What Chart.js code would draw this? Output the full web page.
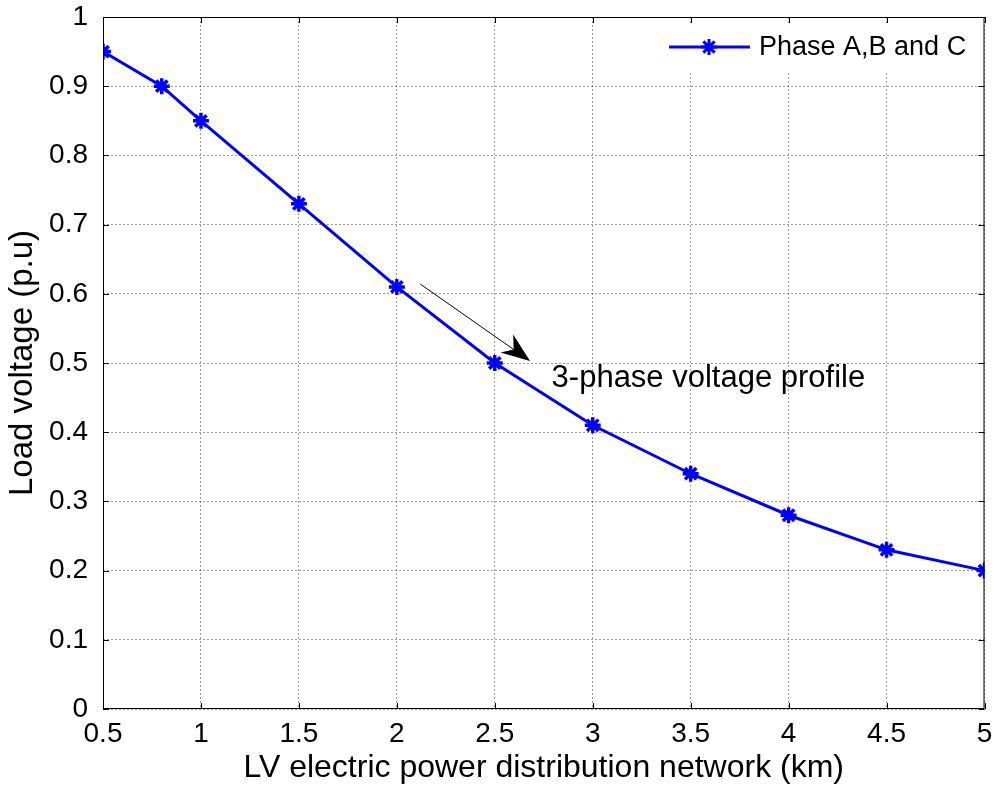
<!DOCTYPE html>
<html>
<head>
<meta charset="utf-8">
<script src="https://cdn.jsdelivr.net/npm/chart.js@4/dist/chart.umd.min.js"></script>
<style>
  html, body { margin: 0; padding: 0; background: #fff; }
  #wrap { width: 996px; height: 787px; }
</style>
</head>
<body>
<div id="wrap"><canvas id="voltChart" width="996" height="787"></canvas></div>
<script>
// distance along the feeder (km) and load voltage (p.u)
const distances = [0.5, 0.8, 1, 1.5, 2, 2.5, 3, 3.5, 4, 4.5, 5];
const loadVoltage = [0.95, 0.90, 0.85, 0.73, 0.61, 0.50, 0.41, 0.34, 0.28, 0.23, 0.20];
const xTicks = [0.5, 1, 1.5, 2, 2.5, 3, 3.5, 4, 4.5, 5];
const yTicks = [0, 0.1, 0.2, 0.3, 0.4, 0.5, 0.6, 0.7, 0.8, 0.9, 1];
const seriesName = 'Phase A,B and C';
const noteText = '3-phase voltage profile';
// arrow from / to, in data units
const arrowFrom = [2.12, 0.614];
const arrowTo = [2.68, 0.503];
const notePos = [2.79, 0.477];

const FONT = 'Liberation Sans, Arial, sans-serif';

// legend, box, inward ticks and the arrow note, MATLAB style
const decor = {
    id: 'decor',
    afterDatasetsDraw(chart) {
        const ctx = chart.ctx;
        const a = chart.chartArea;
        const xs = chart.scales.x, ys = chart.scales.y;
        ctx.save();

        // legend (white patch over the grid)
        const lx = 651, ly = 24, lw = 333, lh = 48;
        ctx.fillStyle = '#fff';
        ctx.fillRect(lx, ly, lw, lh);
        const cy = ly + 23;
        ctx.strokeStyle = '#0000ff';
        ctx.lineWidth = 3;
        ctx.beginPath();
        ctx.moveTo(669, cy); ctx.lineTo(750, cy);
        ctx.stroke();
        ctx.fillStyle = '#0000ff';
        Chart.helpers.drawPoint(ctx, {pointStyle: 'star', radius: 8, borderWidth: 3.5, rotation: 0}, 709, cy);
        ctx.fillStyle = '#000';
        ctx.font = '27px ' + FONT;
        ctx.textAlign = 'left';
        ctx.textBaseline = 'middle';
        ctx.fillText(seriesName, 759, cy + 1);

        // axes box with inward ticks
        ctx.strokeStyle = '#000';
        ctx.lineWidth = 1;
        ctx.strokeRect(a.left + 0.5, a.top + 0.5, a.right - a.left - 1, a.bottom - a.top - 1);
        ctx.beginPath();
        xTicks.forEach(v => {
            const px = Math.round(xs.getPixelForValue(v)) + 0.5;
            ctx.moveTo(px, a.bottom); ctx.lineTo(px, a.bottom - 6);
            ctx.moveTo(px, a.top); ctx.lineTo(px, a.top + 6);
        });
        yTicks.forEach(v => {
            const py = Math.round(ys.getPixelForValue(v)) + 0.5;
            ctx.moveTo(a.left, py); ctx.lineTo(a.left + 6, py);
            ctx.moveTo(a.right, py); ctx.lineTo(a.right - 6, py);
        });
        ctx.stroke();

        // annotation arrow
        const x1 = xs.getPixelForValue(arrowFrom[0]), y1 = ys.getPixelForValue(arrowFrom[1]);
        const x2 = xs.getPixelForValue(arrowTo[0]), y2 = ys.getPixelForValue(arrowTo[1]);
        const ang = Math.atan2(y2 - y1, x2 - x1);
        ctx.beginPath();
        ctx.moveTo(x1, y1);
        ctx.lineTo(x2 - 20 * Math.cos(ang), y2 - 20 * Math.sin(ang));
        ctx.stroke();
        ctx.save();
        ctx.translate(x2, y2);
        ctx.rotate(ang);
        ctx.beginPath();
        ctx.moveTo(0, 0);
        ctx.lineTo(-29, -12);
        ctx.lineTo(-20, 0);
        ctx.lineTo(-29, 10);
        ctx.closePath();
        ctx.fillStyle = '#000';
        ctx.fill();
        ctx.restore();

        ctx.fillStyle = '#000';
        ctx.font = '31px ' + FONT;
        ctx.textAlign = 'left';
        ctx.textBaseline = 'middle';
        ctx.fillText(noteText, xs.getPixelForValue(notePos[0]), ys.getPixelForValue(notePos[1]));
        ctx.restore();
    }
};

const ctx = document.getElementById('voltChart').getContext('2d');
const voltChart = new Chart(ctx, {
    type: 'line',
    data: {
        datasets: [{
            label: seriesName,
            data: distances.map((d, i) => ({x: d, y: loadVoltage[i]})),
            borderColor: '#0000ff',
            backgroundColor: '#0000ff',
            borderWidth: 3,
            pointStyle: 'star',
            pointRadius: 8,
            pointBorderWidth: 3.5,
            tension: 0,
            fill: false
        }]
    },
    options: {
        responsive: false,
        animation: false,
        devicePixelRatio: 1,
        layout: { padding: { top: 17, right: 11, left: 0, bottom: 0 } },
        plugins: { legend: { display: false }, tooltip: { enabled: false } },
        scales: {
            x: {
                type: 'linear',
                min: 0.5, max: 5,
                afterBuildTicks: s => { s.ticks = xTicks.map(v => ({value: v})); },
                afterFit: s => { s.height = 78; s.paddingLeft = 0; s.paddingRight = 0; },
                grid: { color: 'rgba(0,0,0,0.4)', drawTicks: false },
                border: { display: false, dash: [2, 2] },
                ticks: {
                    color: '#000', font: { family: FONT, size: 28 }, padding: 8,
                    callback: v => String(Math.round(v * 10) / 10)
                },
                title: {
                    display: true, text: 'LV electric power distribution network (km)',
                    color: '#000', font: { family: FONT, size: 32 }, padding: { top: 0, bottom: 0 }
                }
            },
            y: {
                type: 'linear',
                min: 0, max: 1,
                afterBuildTicks: s => { s.ticks = yTicks.map(v => ({value: v})); },
                afterFit: s => { s.width = 103; s.paddingTop = 0; s.paddingBottom = 0; },
                grid: { color: 'rgba(0,0,0,0.4)', drawTicks: false },
                border: { display: false, dash: [2, 2] },
                ticks: {
                    color: '#000', font: { family: FONT, size: 28 }, padding: 15,
                    callback: v => String(Math.round(v * 10) / 10)
                },
                title: {
                    display: true, text: 'Load voltage (p.u)',
                    color: '#000', font: { family: FONT, size: 33 }, padding: { top: 3, bottom: 0 }
                }
            }
        }
    },
    plugins: [decor]
});
</script>
</body>
</html>
